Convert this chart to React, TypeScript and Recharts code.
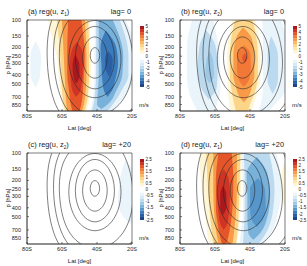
import React from "react";
import { ComposedChart, Area, Line, XAxis, YAxis, ReferenceArea } from "recharts";

type Row = [number, number, number]; // pressure, west edge, east edge
type Band = { v: number; rows: Row[] };
type Loop = [number, number][]; // lat, pressure

const FONT = '"Liberation Sans", Arial, Helvetica, sans-serif';
const INK = "#222";

const latTicks = [-80, -60, -40, -20];
const pTicks = [100, 150, 200, 250, 300, 400, 500, 700, 850];
const cbTicks5 = [-5, -4, -3, -2, -1, 0, 1, 2, 3, 4, 5];
const cbTicks25 = [-2.5, -2, -1.5, -1, -0.5, 0, 0.5, 1, 1.5, 2, 2.5];
const cbEdges5 = [-5, -4.5, -4, -3.5, -3, -2.5, -2, -1.5, -1, -0.5, 0, 0.5, 1, 1.5, 2, 2.5, 3, 3.5, 4, 4.5, 5];
const cbEdges25 = [-2.5, -2.25, -2, -1.75, -1.5, -1.25, -1, -0.75, -0.5, -0.25, 0, 0.25, 0.5, 0.75, 1, 1.25, 1.5, 1.75, 2, 2.25, 2.5];

const REDS = ["#ffffff", "#fff6d5", "#fee8a8", "#fdd588", "#fbb863", "#f89a48", "#f27838", "#e4552a", "#cf3323", "#a9171f"];
const BLUES = ["#ffffff", "#eaf4fb", "#d6e9f5", "#bcdaef", "#9cc8e6", "#78b1da", "#5696cb", "#3b7bbb", "#2a5fa5", "#1d4688"];

// (a) reg(u, z1), lag 0
const aRed: Band[] = [
  { v: 0.5, rows: [[100, -68, -44], [150, -66, -44], [250, -63, -43.5], [400, -62, -43.5], [600, -61, -44], [850, -60, -45], [1000, -59, -46]] },
  { v: 1, rows: [[100, -63, -45], [250, -61, -44.5], [400, -60.5, -44.5], [600, -60, -45], [850, -59, -46], [1000, -58, -47]] },
  { v: 2, rows: [[100, -60, -47], [250, -59, -46], [400, -58.5, -46], [600, -58, -46.5], [850, -57.5, -47.5], [1000, -57, -48.5]] },
  { v: 3, rows: [[100, -56.5, -49], [250, -57, -47], [400, -57, -47.5], [600, -56, -48], [850, -55, -49], [1000, -54, -50]] },
  { v: 4, rows: [[175, -51.5, -51.5], [220, -54.5, -48.5], [300, -55.5, -48], [450, -55, -48.5], [600, -54, -49.5], [700, -52, -52]] },
  { v: 4.5, rows: [[240, -52.5, -52.5], [320, -54, -50], [420, -53.5, -50], [500, -52, -52]] },
];
const aBlue: Band[] = [
  { v: -0.5, rows: [[100, -41.5, -24], [200, -41.5, -18], [400, -41.5, -18], [600, -42, -22], [850, -43, -28], [1000, -44, -31]] },
  { v: -0.5, rows: [[170, -75, -75], [250, -78, -72], [400, -78, -72.5], [550, -75, -75]] },
  { v: -1, rows: [[100, -40.5, -27], [250, -40.5, -22], [400, -40.5, -22], [600, -41, -26], [850, -42, -31], [1000, -43, -34]] },
  { v: -2, rows: [[100, -39, -31], [250, -39, -25], [400, -39, -25.5], [600, -39.5, -29], [850, -40, -34], [950, -37.5, -37.5]] },
  { v: -3, rows: [[130, -35, -35], [200, -38, -29], [300, -37.5, -28], [450, -37, -29.5], [600, -36, -31.5], [700, -34, -34]] },
  { v: -4, rows: [[220, -33.5, -33.5], [270, -35.5, -31], [350, -35, -31.5], [420, -33, -33]] },
];

// (b) reg(u, z2), lag 0
const bRed: Band[] = [
  { v: 0.5, rows: [[100, -50, -37], [150, -52, -35], [250, -53, -34], [400, -53, -34], [600, -52.5, -35.5], [850, -52, -38], [1000, -51.5, -39]] },
  { v: 1, rows: [[100, -48.5, -38.5], [150, -50.5, -36.5], [250, -51.5, -35.5], [400, -51.5, -35.5], [600, -50.5, -37], [850, -49, -40], [1000, -48, -41]] },
  { v: 2, rows: [[120, -44, -44], [160, -48, -39], [250, -49.5, -37.5], [400, -49.5, -37.5], [550, -48, -39], [700, -46, -41], [800, -43.5, -43.5]] },
  { v: 3, rows: [[190, -43.5, -43.5], [230, -47, -40], [330, -47.5, -39.5], [450, -46.5, -40.5], [540, -43.5, -43.5]] },
  { v: 3.5, rows: [[230, -43, -43], [260, -44.5, -41.5], [300, -43, -43]] },
];
const bBlue: Band[] = [
  { v: -0.5, rows: [[100, -73, -61], [200, -76, -58], [400, -76, -57], [600, -75, -57], [850, -72, -59], [1000, -70, -60]] },
  { v: -0.5, rows: [[100, -33, -22], [250, -32.5, -18], [500, -32.5, -18], [700, -33, -22], [850, -34, -26], [1000, -35, -29]] },
  { v: -1, rows: [[130, -65, -65], [200, -69, -59.5], [350, -70, -58.5], [550, -68, -59], [750, -63.5, -63.5]] },
  { v: -1, rows: [[150, -28, -28], [250, -30, -24], [450, -30, -24], [650, -27, -27]] },
  { v: -2, rows: [[220, -63, -63], [280, -65, -61], [400, -65.5, -60.5], [500, -63, -63]] },
];

// (c) reg(u, z2), lag +20
const cRed: Band[] = [];
const cBlue: Band[] = [
  { v: -0.25, rows: [[120, -24, -24], [200, -27, -17], [350, -28, -17], [500, -25, -18], [600, -21, -21]] },
];

// (d) reg(u, z1), lag +20
const dRed: Band[] = [
  { v: 0.25, rows: [[100, -69, -44.5], [200, -68, -45], [400, -66, -45.5], [600, -65, -46], [850, -64, -47], [1000, -63, -47.5]] },
  { v: 0.25, rows: [[130, -21, -21], [200, -22, -17], [300, -22, -17], [380, -20, -20]] },
  { v: 0.5, rows: [[100, -65, -45.5], [250, -64, -46], [450, -63, -46.5], [700, -62, -47], [1000, -61, -48]] },
  { v: 1, rows: [[100, -61, -47.5], [250, -61, -47.5], [450, -60.5, -48], [700, -59.5, -49], [1000, -58, -50]] },
  { v: 1.5, rows: [[100, -58, -50.5], [200, -59.5, -49.5], [400, -59.5, -50], [600, -58.5, -51], [850, -57, -52.5], [1000, -56, -53.5]] },
  { v: 2, rows: [[150, -55, -55], [200, -58, -52], [300, -58.5, -51.5], [450, -58, -52], [600, -57, -53], [700, -55, -55]] },
  { v: 2.25, rows: [[230, -55.5, -55.5], [280, -57, -53.5], [400, -57, -53.5], [480, -55.5, -55.5]] },
];
const dBlue: Band[] = [
  { v: -0.25, rows: [[100, -45, -25], [250, -44, -22], [450, -44, -24], [700, -45, -27], [1000, -46, -32]] },
  { v: -0.5, rows: [[100, -43.5, -29], [250, -43, -26], [450, -43, -27], [700, -43.5, -30], [1000, -44, -35]] },
  { v: -1, rows: [[110, -36, -36], [170, -42, -30], [300, -41.5, -28.5], [500, -41.5, -30], [750, -41, -34], [900, -38, -38]] },
  { v: -1.5, rows: [[190, -35.5, -35.5], [250, -40, -31.5], [400, -40, -31], [550, -39, -33], [650, -36, -36]] },
];

// black contour lines (closed loops, lat / hPa): left column panels
const loopsLeft: Loop[] = [
  [[-41.2, 197], [-39.1, 210], [-38.2, 245], [-39.1, 286], [-41.2, 305], [-43.3, 286], [-44.2, 245], [-43.3, 210]],
  [[-41.2, 145], [-35.7, 172], [-33.4, 258], [-35.7, 389], [-41.2, 461], [-46.7, 389], [-49, 258], [-46.7, 172]],
  [[-41.2, 108], [-32.5, 140], [-28.8, 260], [-32.5, 481], [-41.2, 622], [-49.9, 481], [-53.6, 260], [-49.9, 140]],
  [[-41.2, 91], [-29.5, 125], [-24.7, 268], [-29.5, 578], [-41.2, 794], [-52.9, 578], [-57.7, 268], [-52.9, 125]],
  [[-41, 60], [-28, 72], [-20, 160], [-18.5, 400], [-25, 850], [-38, 1200], [-50, 1050], [-59, 650], [-62.5, 260], [-60, 100]],
  [[-41, 45], [-24, 55], [-14, 160], [-12, 500], [-20, 1100], [-38, 1500], [-54, 1250], [-62, 700], [-66, 260], [-63, 80]],
  [[-41, 35], [-20, 45], [-10, 160], [-8, 500], [-16, 1200], [-38, 1800], [-58, 1400], [-66, 750], [-69.5, 260], [-67, 70]],
];
// right column panels: jet contours sit a little further poleward
const loopsRight: Loop[] = [
  [[-44.5, 197], [-42.4, 210], [-41.5, 245], [-42.4, 286], [-44.5, 305], [-46.6, 286], [-47.5, 245], [-46.6, 210]],
  [[-44.3, 145], [-38.8, 172], [-36.5, 258], [-38.8, 389], [-44.3, 461], [-49.8, 389], [-52.1, 258], [-49.8, 172]],
  [[-44, 108], [-35.3, 140], [-31.6, 260], [-35.3, 481], [-44, 622], [-52.7, 481], [-56.4, 260], [-52.7, 140]],
  [[-43.8, 91], [-32.1, 125], [-27.3, 268], [-32.1, 578], [-43.8, 794], [-55.5, 578], [-60.3, 268], [-55.5, 125]],
  [[-43, 60], [-30, 72], [-22, 160], [-20.5, 400], [-27, 850], [-40, 1200], [-52, 1050], [-61, 650], [-64.5, 260], [-62, 100]],
  [[-43, 45], [-26, 55], [-16, 160], [-14, 500], [-22, 1100], [-40, 1500], [-56, 1250], [-64, 700], [-68, 260], [-65, 80]],
  [[-43, 35], [-22, 45], [-12, 160], [-10, 500], [-18, 1200], [-40, 1800], [-60, 1400], [-68, 750], [-71.5, 260], [-69, 70]],
];

function bandColour(all: Band[], b: Band, vmax: number) {
  const levels = Array.from(new Set(all.filter((x) => Math.sign(x.v) === Math.sign(b.v)).map((x) => Math.abs(x.v)))).sort((p, q) => p - q);
  const a = Math.abs(b.v);
  const i = levels.indexOf(a);
  const next = i + 1 < levels.length ? levels[i + 1] : Math.min(vmax, a + (i > 0 ? (a - levels[i - 1]) / 2 : vmax / 10));
  const k = Math.min(9, Math.floor(((a + next) / 2 / vmax) * 10));
  return (b.v > 0 ? REDS : BLUES)[k];
}

function ColourBar({ vmax, ticks, edges }: { vmax: number; ticks: number[]; edges: number[] }) {
  const cells = edges.slice(0, -1).map((lo, i) => {
    const mid = (lo + edges[i + 1]) / 2;
    const k = Math.min(9, Math.floor((Math.abs(mid) / vmax) * 10));
    return { lo, hi: edges[i + 1], fill: mid > 0 ? REDS[k] : BLUES[k] };
  });
  return (
    <ComposedChart width={28} height={70} margin={{ top: 3, right: 0, bottom: 6, left: 3 }}>
      <XAxis type="number" dataKey="x" domain={[0, 1]} hide />
      <YAxis
        type="number"
        orientation="right"
        domain={[-vmax, vmax]}
        ticks={ticks}
        interval={0}
        width={21}
        tickLine={false}
        axisLine={false}
        tickSize={0}
        tickMargin={1.5}
        tick={{ fontSize: 4.6, fill: INK, fontFamily: FONT }}
      />
      {cells.map((c, i) => (
        <Area
          key={i}
          data={[{ x: 0, r: [c.lo, c.hi] }, { x: 1, r: [c.lo, c.hi] }]}
          dataKey="r"
          type="linear"
          fill={c.fill}
          fillOpacity={1}
          stroke="none"
          dot={false}
          activeDot={false}
          isAnimationActive={false}
        />
      ))}
    </ComposedChart>
  );
}

type PanelProps = {
  x: number; y: number; tag: string; z: string; lag: string; loops: Loop[];
  red: Band[]; blue: Band[]; vmax: number; ticks: number[]; edges: number[];
};

const tickStroke = { stroke: INK, strokeWidth: 0.6 };

function Panel({ x, y, tag, z, lag, loops, red, blue, vmax, ticks, edges }: PanelProps) {
  const bands = [...red, ...blue];
  const txt = { fontFamily: FONT, color: INK, whiteSpace: "nowrap" as const, position: "absolute" as const };
  return (
    <div style={{ position: "absolute", left: x, top: y, width: 153, height: 133 }}>
      <ComposedChart width={153} height={133} layout="vertical" margin={{ top: 20, right: 21, bottom: 0, left: 5 }}>
        <XAxis
          type="number"
          domain={[-80, -20]}
          allowDataOverflow
          ticks={latTicks}
          interval={0}
          tickFormatter={(v: number) => `${Math.abs(v)}S`}
          height={22}
          tickSize={-2}
          tickMargin={5}
          tick={{ fontSize: 5.5, fill: INK, fontFamily: FONT }}
          tickLine={tickStroke}
          axisLine={tickStroke}
          label={{ value: "Lat [deg]", position: "insideBottom", offset: 3, fontSize: 6, fill: INK, fontFamily: FONT }}
        />
        <XAxis
          xAxisId="top"
          orientation="top"
          type="number"
          domain={[-80, -20]}
          allowDataOverflow
          ticks={latTicks}
          interval={0}
          height={0}
          tickSize={-2}
          tick={false}
          tickLine={tickStroke}
          axisLine={false}
        />
        <YAxis
          type="number"
          dataKey="p"
          scale="log"
          domain={[100, 1000]}
          allowDataOverflow
          ticks={pTicks}
          interval={0}
          width={22}
          tickSize={-2}
          tickMargin={8}
          tick={{ fontSize: 5.5, fill: INK, fontFamily: FONT }}
          tickLine={tickStroke}
          axisLine={tickStroke}
        />
        <YAxis
          yAxisId="right"
          orientation="right"
          type="number"
          dataKey="p"
          scale="log"
          domain={[100, 1000]}
          allowDataOverflow
          ticks={pTicks}
          interval={0}
          width={0}
          tickSize={-2}
          tick={false}
          tickLine={tickStroke}
          axisLine={false}
        />
        {bands.map((b, i) => (
          <Area
            key={`b${i}`}
            data={b.rows.map(([p, lo, hi]) => ({ p, r: [lo, hi] }))}
            dataKey="r"
            type="monotone"
            fill={bandColour(bands, b, vmax)}
            fillOpacity={1}
            stroke="none"
            dot={false}
            activeDot={false}
            isAnimationActive={false}
          />
        ))}
        {loops.map((loop, i) => (
          <Line
            key={`c${i}`}
            data={loop.map(([lat, p]) => ({ p, lat }))}
            dataKey="lat"
            type="basisClosed"
            stroke="#2a2a2a"
            strokeWidth={0.6}
            dot={false}
            activeDot={false}
            isAnimationActive={false}
          />
        ))}
        <ReferenceArea x1={-80} x2={-20} y1={100} y2={1000} fill="none" stroke={INK} strokeWidth={0.6} />
      </ComposedChart>
      <div style={{ position: "absolute", left: 137, top: 23 }}>
        <ColourBar vmax={vmax} ticks={ticks} edges={edges} />
      </div>
      <div style={{ ...txt, left: 28, top: 8, fontSize: 7.4, lineHeight: "8px" }}>
        ({tag}) reg(u, z<sub style={{ fontSize: 4.6, verticalAlign: "-1.5px", lineHeight: 0 }}>{z}</sub>)
      </div>
      <div style={{ ...txt, right: 22, top: 8, fontSize: 7.4, lineHeight: "8px" }}>lag= {lag}</div>
      <div style={{ ...txt, left: -10, top: 61, width: 36, textAlign: "center", fontSize: 6, lineHeight: "8px", transform: "rotate(-90deg)" }}>
        p [hPa]
      </div>
      <div style={{ ...txt, left: 139, top: 101, fontSize: 6, lineHeight: "8px" }}>m/s</div>
    </div>
  );
}

export default function App() {
  return (
    <div style={{ position: "absolute", left: 0, top: 0, width: 307, height: 266, background: "#fff", overflow: "hidden" }}>
      <Panel x={0} y={0} tag="a" z="1" lag="0" loops={loopsLeft} red={aRed} blue={aBlue} vmax={5} ticks={cbTicks5} edges={cbEdges5} />
      <Panel x={153} y={0} tag="b" z="2" lag="0" loops={loopsRight} red={bRed} blue={bBlue} vmax={5} ticks={cbTicks5} edges={cbEdges5} />
      <Panel x={0} y={133} tag="c" z="2" lag="+20" loops={loopsLeft} red={cRed} blue={cBlue} vmax={2.5} ticks={cbTicks25} edges={cbEdges25} />
      <Panel x={153} y={133} tag="d" z="1" lag="+20" loops={loopsRight} red={dRed} blue={dBlue} vmax={2.5} ticks={cbTicks25} edges={cbEdges25} />
    </div>
  );
}
